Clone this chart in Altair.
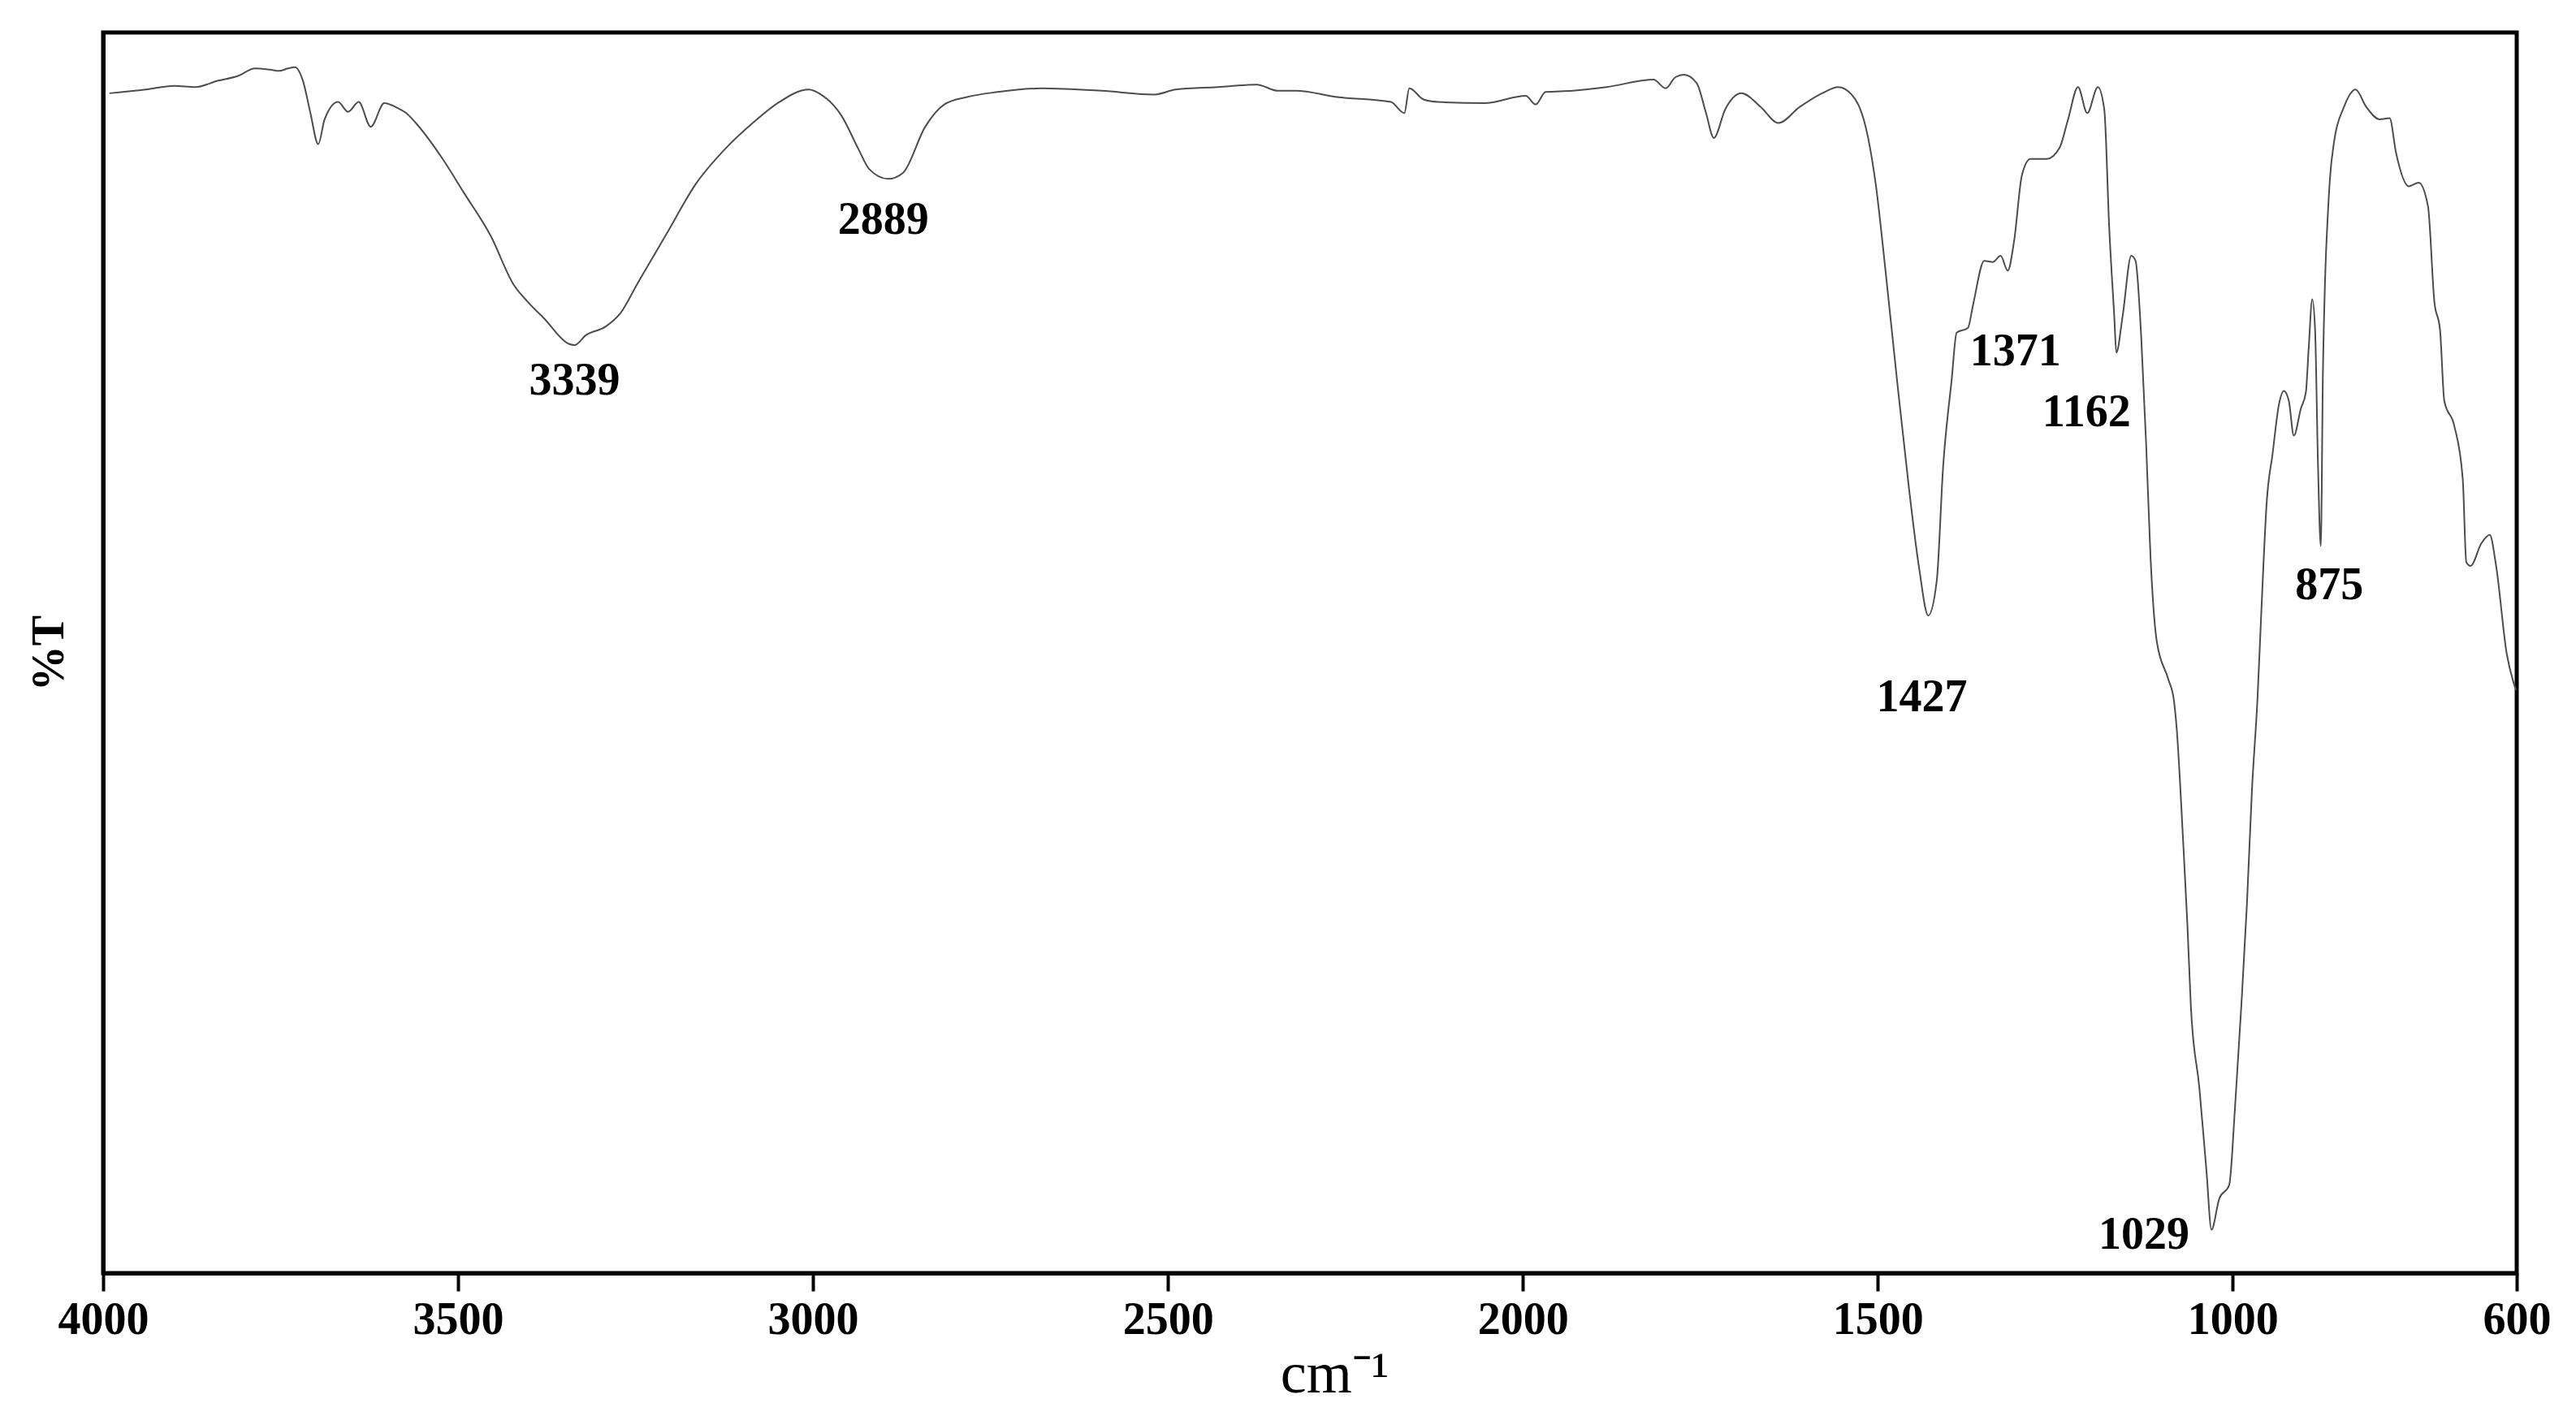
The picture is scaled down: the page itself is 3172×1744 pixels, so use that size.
import altair as alt
import pandas as pd

# Wavenumber (cm-1) and transmittance (arbitrary %T units, 0 = bottom, 100 = top of frame)
wavenumber = [
    3991, 3940, 3900, 3870, 3839, 3810, 3786, 3765, 3752, 3740, 3730, 3718, 3708, 3697, 3688,
    3669, 3655, 3640, 3623, 3604, 3585, 3573, 3561, 3524, 3492, 3454, 3422, 3402, 3378, 3344,
    3336, 3320, 3292, 3271, 3246, 3206, 3165, 3124, 3083, 3050, 3006, 2989, 2960, 2936, 2921,
    2894, 2873, 2842, 2815, 2783, 2740, 2678, 2593,
    2519, 2489, 2430, 2375, 2345, 2320, 2262, 2186, 2167, 2160, 2140, 2120, 2054, 1996, 1982,
    1968, 1930, 1882, 1816, 1799, 1785, 1773, 1755, 1742, 1731, 1715, 1692, 1665, 1640, 1610,
    1575, 1556, 1537, 1514, 1503, 1489, 1473, 1456, 1442, 1429, 1417, 1408, 1396, 1389, 1373,
    1366, 1350, 1338, 1327, 1317, 1308, 1297, 1285, 1262, 1244, 1232, 1218, 1205, 1190, 1181,
    1174, 1167, 1164, 1155, 1143, 1137, 1129, 1122, 1116, 1107, 1091, 1083, 1079, 1070, 1064,
    1059, 1047, 1037, 1030, 1019, 1005, 997, 988, 980, 973, 965, 960, 952, 944, 935,
    928, 921, 914, 904, 897, 893, 888, 884, 880, 876, 873, 870, 866, 863, 857,
    844, 827, 812, 793, 779, 770, 752, 738, 725, 716, 708, 702, 688, 676, 671,
    665, 650, 638, 629, 614, 605, 601,
]
transmittance = [
    95.1, 95.4, 95.7, 95.6, 96.1, 96.5, 97.1, 97.0, 96.9, 97.1, 97.2, 96.0, 93.5, 91.0, 93.0,
    94.4, 93.6, 94.4, 92.4, 94.3, 93.9, 93.5, 92.8, 90.0, 87.1, 83.6, 79.7, 78.3, 76.9, 74.9,
    74.8, 75.6, 76.3, 77.4, 79.9, 83.8, 87.8, 90.6, 92.8, 94.3, 95.4, 95.0, 93.3, 90.6, 89.0,
    88.2, 88.7, 92.4, 94.2, 94.8, 95.2, 95.5, 95.3,
    95.0, 95.4, 95.6, 95.8, 95.3, 95.3, 94.8, 94.4, 93.5, 95.5, 94.6, 94.4, 94.3, 94.9, 94.2,
    95.2, 95.3, 95.6, 96.2, 95.5, 96.4, 96.6, 95.9, 93.5, 91.5, 93.8, 95.1, 94.0, 92.7, 94.0,
    95.2, 95.6, 95.0, 91.6, 87.8, 80.7, 72.0, 63.2, 56.9, 53.0, 55.8, 65.0, 72.0, 75.8, 76.2,
    78.0, 81.6, 81.5, 82.0, 80.8, 83.2, 88.5, 89.8, 89.8, 90.7, 93.0, 95.6, 93.5, 95.6, 93.8,
    84.2, 77.2, 74.2, 77.2, 82.0, 81.6, 75.5, 66.8, 57.9, 50.9, 47.9, 46.2, 43.9, 34.9, 28.2,
    21.5, 14.9, 8.2, 3.5, 6.0, 7.1, 13.2, 21.5, 29.8, 38.9, 46.5, 53.0, 62.3, 66.0, 70.0,
    71.1, 70.3, 67.5, 69.7, 71.0, 74.6, 78.5, 76.0, 65.3, 58.6, 72.6, 80.0, 85.4, 88.3, 91.3,
    93.9, 95.4, 94.0, 93.0, 93.1, 90.3, 87.6, 87.9, 86.0, 78.3, 76.0, 70.3, 68.3, 64.0, 57.3,
    57.0, 58.8, 59.5, 57.0, 49.9, 47.7, 47.0,
]

# Peak annotations
peak_labels = ["3339", "2889", "1427", "1371", "1162", "875", "1029"]
peak_label_wn = [3336, 2901, 1438, 1306, 1206, 864, 1125]
peak_label_t = [71.9, 84.9, 46.4, 74.3, 69.4, 55.4, 3.1]

x_ticks = [4000, 3500, 3000, 2500, 2000, 1500, 1000, 600]

spec_df = pd.DataFrame({"wn": wavenumber, "t": transmittance})
lab_df = pd.DataFrame({"wn": peak_label_wn, "t": peak_label_t, "label": peak_labels})

x_scale = alt.Scale(domain=[600, 4000], reverse=True, nice=False, zero=False)
y_scale = alt.Scale(domain=[0, 100], nice=False, zero=False)

line = alt.Chart(spec_df).mark_line(
    color="#4d4d4d", strokeWidth=2, interpolate="monotone"
).encode(
    x=alt.X(
        "wn:Q",
        scale=x_scale,
        axis=alt.Axis(
            title="cm⁻¹",
            values=x_ticks,
            format="d",
            grid=False,
            labelFont="Liberation Serif",
            labelFontWeight="bold",
            labelFontSize=56,
            labelColor="black",
            labelPadding=8,
            labelFlush=False,
            labelOverlap=False,
            tickSize=22,
            tickWidth=4,
            tickColor="black",
            domainColor="black",
            domainWidth=5,
            titleFont="Liberation Serif",
            titleFontWeight="normal",
            titleFontSize=72,
            titleColor="black",
            titlePadding=4,
            titleX=1516,
        ),
    ),
    y=alt.Y(
        "t:Q",
        scale=y_scale,
        axis=alt.Axis(
            title="%T",
            labels=False,
            ticks=False,
            grid=False,
            domainColor="black",
            domainWidth=5,
            titleFont="Liberation Serif",
            titleFontWeight="bold",
            titleFontSize=56,
            titleColor="black",
            titlePadding=38,
        ),
    ),
    order=alt.Order("wn:Q", sort="descending"),
)

labels = alt.Chart(lab_df).mark_text(
    font="Liberation Serif",
    fontWeight="bold",
    fontSize=56,
    color="black",
    align="center",
    baseline="middle",
).encode(
    x=alt.X("wn:Q", scale=x_scale),
    y=alt.Y("t:Q", scale=y_scale),
    text="label:N",
)

chart = (
    alt.layer(line, labels)
    .properties(
        width=2972,
        height=1528,
        autosize=alt.AutoSizeParams(type="none"),
        padding={"left": 119, "top": 32, "right": 50, "bottom": 168},
        background="white",
    )
    .configure_view(stroke="black", strokeWidth=5)
)

chart.save("out.html", embed_options={"renderer": "svg", "actions": False})
